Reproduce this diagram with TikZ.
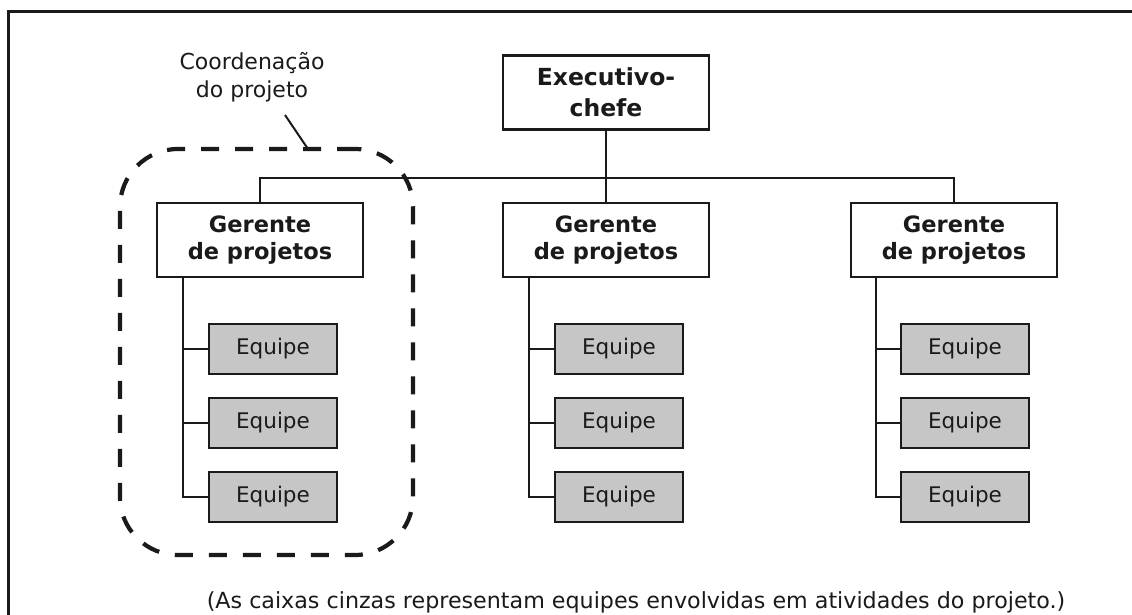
\documentclass[tikz,border=0pt]{standalone}
\usepackage{fontspec}
\setmainfont{DejaVu Sans}
\definecolor{teamgray}{HTML}{C6C6C6}
\definecolor{ink}{HTML}{1A1A1A}
\begin{document}
\begin{tikzpicture}[x=1pt,y=-1pt,
  mgrbox/.style={draw=ink, line width=2.7pt, fill=white, inner sep=0pt, align=center,
    minimum width=206pt, minimum height=74pt, text=ink,
    font=\bfseries\fontsize{22.5}{26.5}\selectfont},
  teambox/.style={draw=ink, line width=2.5pt, fill=teamgray, inner sep=0pt,
    minimum width=128pt, minimum height=50pt, text=ink,
    font=\fontsize{21.5}{24}\selectfont},
  link/.style={draw=ink, line width=2pt},
  grpline/.style={draw=ink, line width=4.2pt, dash pattern=on 18pt off 16pt, rounded corners=58pt},
  plain/.style={text=ink, inner sep=0pt}
]
\useasboundingbox[fill=white] (0,0) rectangle (1132,615);
% frame (open to the right and bottom)
\draw[draw=ink, line width=3pt] (8,640) -- (8,12) -- (1160,12);

% project coordination group
\node[grpline, minimum width=293pt, minimum height=406pt] (grp) at (266.5,352) {};
\node[plain, align=center, font=\fontsize{22}{28.5}\selectfont] (lbl) at (252,77) {Coordenação\\do projeto};
\coordinate (p1) at (285,115);
\coordinate (p2) at (308,149);
\draw[link] (p1) -- (p2);

% executive
\node[mgrbox, font=\bfseries\fontsize{23.5}{31}\selectfont] (exec) at (606,92.5) {Executivo-\\chefe};

% managers
\node[mgrbox] (gL) at (260,240) {Gerente\\de projetos};
\node[mgrbox] (gM) at (606,240) {Gerente\\de projetos};
\node[mgrbox] (gR) at (954,240) {Gerente\\de projetos};

\coordinate (bus) at (606,178);
\draw[link] (gL.north) |- (bus) -| (gR.north);
\draw[link] (exec.south) -- (gM.north);

% teams
\foreach \c/\x/\s in {L/273/183, M/619/529, R/965/876}{
  \node[teambox] (e\c1) at (\x,349) {Equipe};
  \node[teambox] (e\c2) at (\x,423) {Equipe};
  \node[teambox] (e\c3) at (\x,497) {Equipe};
  \coordinate (s\c) at (\s,0);
  \draw[link] (g\c.south -| s\c) |- (e\c3.west);
  \draw[link] (e\c1.west -| s\c) -- (e\c1.west);
  \draw[link] (e\c2.west -| s\c) -- (e\c2.west);
}

\node[plain, anchor=base, font=\fontsize{22.2}{26}\selectfont] (note) at (636,608)
  {(As caixas cinzas representam equipes envolvidas em atividades do projeto.)};
\end{tikzpicture}
\end{document}
